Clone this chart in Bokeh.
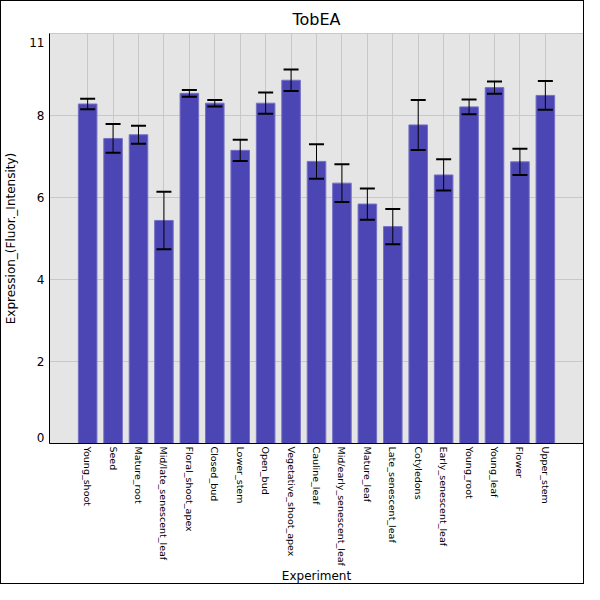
import math
from bokeh.plotting import figure
from bokeh.models import ColumnDataSource, Whisker, TeeHead, FixedTicker, FactorRange, Range1d
from bokeh.embed import file_html
from bokeh.resources import INLINE

categories = ["Young_shoot", "Seed", "Mature_root", "Mid/late_senescent_leaf", "Floral_shoot_apex",
              "Closed_bud", "Lower_stem", "Open_bud", "Vegetative_shoot_apex", "Cauline_leaf",
              "Mid/early_senescent_leaf", "Mature_leaf", "Late_senescent_leaf", "Cotyledons",
              "Early_senescent_leaf", "Young_root", "Young_leaf", "Flower", "Upper_stem"]
values = [8.28, 7.44, 7.53, 5.44, 8.54, 8.30, 7.15, 8.30, 8.86, 6.88,
          6.35, 5.84, 5.29, 7.77, 6.55, 8.21, 8.68, 6.87, 8.49]
errors = [0.13, 0.35, 0.22, 0.70, 0.08, 0.08, 0.26, 0.26, 0.26, 0.42,
          0.46, 0.38, 0.43, 0.61, 0.38, 0.18, 0.15, 0.32, 0.35]
y_ticks = [0.14, 2, 4, 6, 8, 9.78]
y_tick_labels = ["0", "2", "4", "6", "8", "11"]
grid_ticks = [2, 4, 6, 8]

src = ColumnDataSource(dict(
    cat=categories, val=values,
    upper=[v + e for v, e in zip(values, errors)],
    lower=[v - e for v, e in zip(values, errors)],
))

FONT = "DejaVu Sans"
p = figure(width=584, height=584, output_backend="svg", toolbar_location=None,
           x_range=FactorRange(factors=categories, range_padding=1, range_padding_units="absolute"),
           y_range=Range1d(0, 10),
           title="TobEA", x_axis_label="Experiment", y_axis_label="Expression_(Fluor._Intensity)",
           min_border_left=42, min_border_right=2, min_border_top=32, min_border_bottom=120)
p.styles = {"border": "1px solid black", "box-sizing": "border-box"}

p.background_fill_color = "#e5e5e5"
p.border_fill_color = "white"
p.outline_line_color = "#c8c8c8"

p.title.align = "center"
p.title.text_font = FONT
p.title.text_font_size = "16px"
p.title.text_font_style = "normal"
p.title.text_color = "black"
p.title.offset = 0

p.vbar(x="cat", top="val", width=0.73, bottom=0, source=src,
       fill_color="#4b46b3", line_color="#7470c6", line_width=1)

w = Whisker(base="cat", upper="upper", lower="lower", source=src,
            line_color="black", line_width=1, level="overlay",
            upper_head=TeeHead(size=15, line_width=2, line_color="black"),
            lower_head=TeeHead(size=15, line_width=2, line_color="black"))
p.add_layout(w)

p.xgrid.grid_line_color = "#c8c8c8"
p.ygrid.grid_line_color = "#c8c8c8"
p.ygrid.ticker = FixedTicker(ticks=grid_ticks)

for ax in (p.xaxis[0], p.yaxis[0]):
    ax.axis_line_color = "black"
    ax.axis_line_width = 1
    ax.major_tick_line_color = None
    ax.minor_tick_line_color = None
    ax.major_tick_out = 0
    ax.major_tick_in = 0
    ax.axis_label_text_font = FONT
    ax.axis_label_text_font_size = "12px"
    ax.axis_label_text_font_style = "normal"
    ax.axis_label_text_color = "black"
    ax.major_label_text_font = FONT
    ax.major_label_text_color = "black"

p.yaxis.ticker = FixedTicker(ticks=y_ticks)
p.yaxis.major_label_overrides = {t: l for t, l in zip(y_ticks, y_tick_labels)}
p.yaxis.major_label_text_font_size = "12px"
p.yaxis.major_label_standoff = 5
p.yaxis.axis_label_standoff = 8

p.xaxis.major_label_orientation = -math.pi / 2
p.xaxis.major_label_text_font_size = "9.5px"
p.xaxis.major_label_standoff = 3
p.xaxis.axis_label_standoff = 0

open("out.html", "w").write(file_html(p, INLINE))
